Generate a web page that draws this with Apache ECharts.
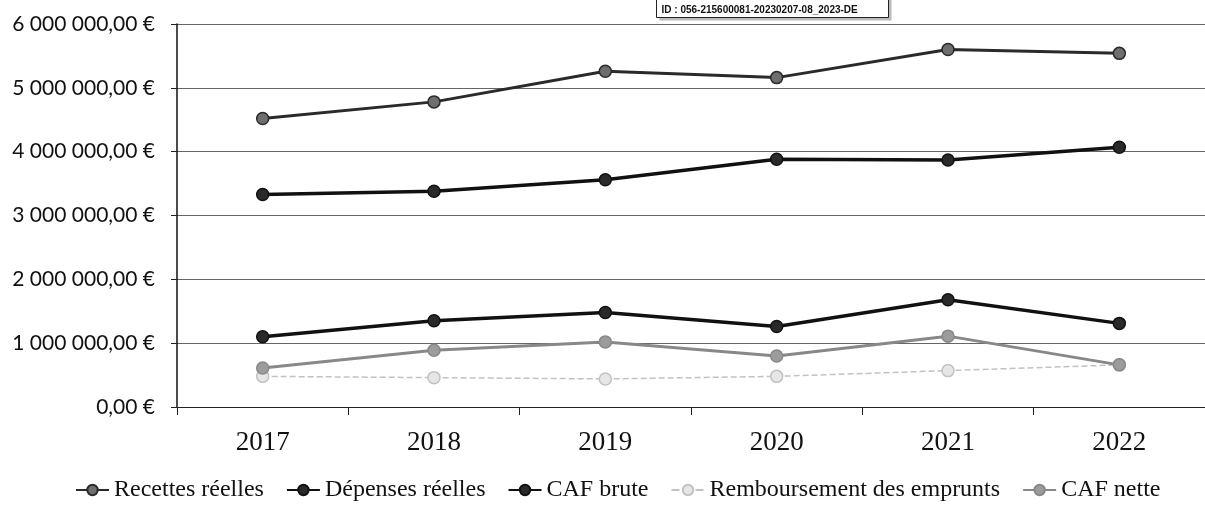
<!DOCTYPE html>
<html>
<head>
<meta charset="utf-8">
<script src="https://cdn.jsdelivr.net/npm/echarts@6/dist/echarts.min.js"></script>
<style>
  html, body { margin: 0; padding: 0; background: #fff; }
  #chart { width: 1205px; height: 510px; }
</style>
</head>
<body>
<div id="chart"></div>
<script>
// years on the x axis
var years = ['2017', '2018', '2019', '2020', '2021', '2022'];

// values (euros)
var recettes = [4520000, 4780000, 5260000, 5160000, 5600000, 5540000];
var depenses = [3330000, 3380000, 3560000, 3880000, 3870000, 4070000];
var cafBrute = [1100000, 1350000, 1480000, 1260000, 1680000, 1310000];
var remboursement = [480000, 460000, 440000, 480000, 570000, 660000];
var cafNette = [610000, 890000, 1020000, 800000, 1110000, 660000];

var stampText = 'ID : 056-215600081-20230207-08_2023-DE';

function euro(v) {
  var s = Math.round(v).toString().replace(/\B(?=(\d{3})+(?!\d))/g, ' ');
  return s + ',00 €';
}

var serif = '"Liberation Serif", "DejaVu Serif", serif';

function line(name, data, color, symbolColor, width, dashed) {
  return {
    name: name,
    type: 'line',
    data: data,
    symbol: 'circle',
    symbolSize: 12,
    lineStyle: { color: color, width: width, type: dashed ? 'dashed' : 'solid' },
    itemStyle: { color: symbolColor, borderColor: color, borderWidth: 1.5 },
    animation: false
  };
}

var chart = echarts.init(document.getElementById('chart'));
chart.setOption({
  backgroundColor: '#fff',
  animation: false,
  grid: { left: 177, right: -8, top: 24, bottom: 103, containLabel: false },
  legend: {
    bottom: 3,
    left: 70,
    itemGap: 22,
    itemWidth: 33,
    itemHeight: 13,
    textStyle: { fontFamily: serif, fontSize: 24, color: '#111' },
    data: ['Recettes réelles', 'Dépenses réelles', 'CAF brute', 'Remboursement des emprunts', 'CAF nette']
  },
  xAxis: {
    type: 'category',
    data: years,
    boundaryGap: true,
    axisLine: { lineStyle: { color: '#222', width: 1 } },
    axisTick: { show: true, length: 8, lineStyle: { color: '#222' } },
    axisLabel: { fontFamily: serif, fontSize: 27, color: '#111', margin: 22 }
  },
  yAxis: {
    type: 'value',
    min: 0,
    max: 6000000,
    interval: 1000000,
    axisLine: { show: true, lineStyle: { color: '#111', width: 1.5 } },
    axisTick: { show: true, length: 6, lineStyle: { color: '#222' } },
    splitLine: { lineStyle: { color: '#666', width: 1 } },
    axisLabel: {
      formatter: euro,
      fontFamily: 'Lato, "Open Sans", sans-serif',
      fontSize: 21,
      color: '#111',
      margin: 22
    }
  },
  series: [
    line('Recettes réelles', recettes, '#2a2a2a', '#6e6e6e', 3, false),
    line('Dépenses réelles', depenses, '#111', '#2a2a2a', 3.5, false),
    line('CAF brute', cafBrute, '#111', '#2a2a2a', 3.5, false),
    line('Remboursement des emprunts', remboursement, '#c2c2c2', '#e6e6e6', 1.5, true),
    line('CAF nette', cafNette, '#888', '#9c9c9c', 3, false)
  ],
  graphic: [
    {
      type: 'group',
      left: 656,
      top: -6,
      children: [
        { type: 'rect', shape: { x: 3, y: 3, width: 232, height: 23 }, style: { fill: '#bbb' } },
        { type: 'rect', shape: { x: 0, y: 0, width: 232, height: 23 }, style: { fill: '#fff', stroke: '#222', lineWidth: 1 } },
        { type: 'text', style: { x: 5, y: 11, text: stampText, font: 'bold 10px "Liberation Sans", Arial, sans-serif', fill: '#111' } }
      ]
    }
  ]
});
</script>
</body>
</html>
